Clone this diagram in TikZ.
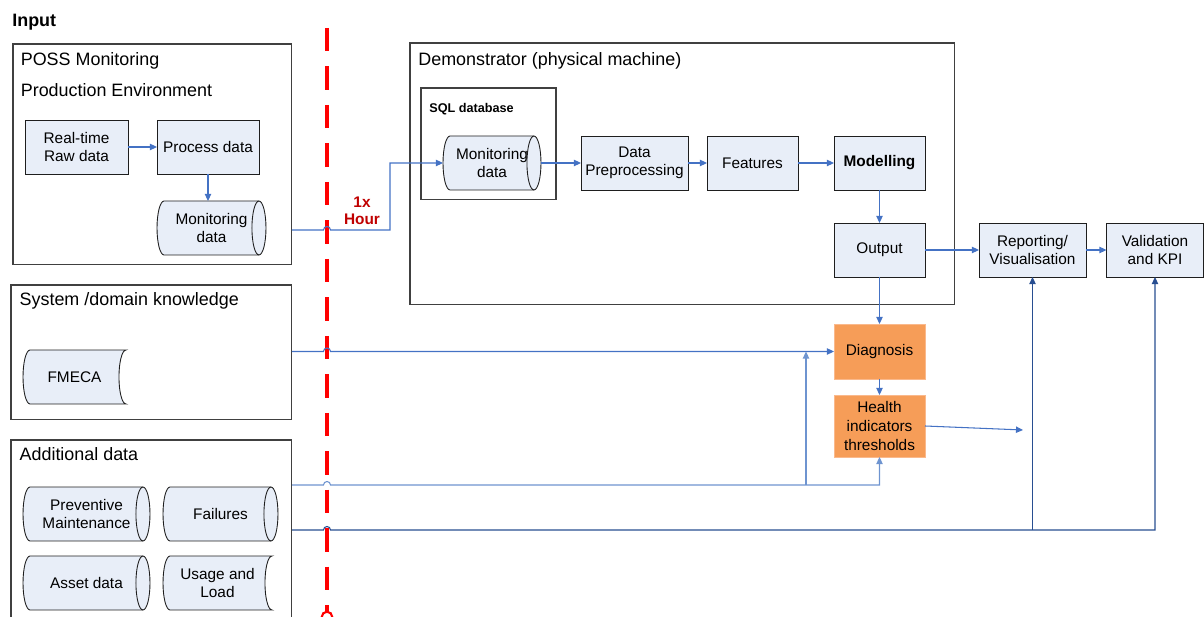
\documentclass[tikz,border=0pt]{standalone}
\usepackage{fontspec}
\setmainfont{Liberation Sans}
\usetikzlibrary{arrows.meta, calc}
\pgfdeclarelayer{background}
\pgfsetlayers{background,main}
\definecolor{boxfill}{RGB}{232,238,248}
\definecolor{boxline}{RGB}{30,30,30}
\definecolor{panelgray}{RGB}{64,64,64}
\definecolor{flowblue}{RGB}{68,114,196}
\definecolor{flowlight}{RGB}{110,148,208}
\definecolor{flowdark}{RGB}{40,78,145}
\definecolor{hotfill}{RGB}{246,157,88}
\definecolor{hotline}{RGB}{250,185,140}
\definecolor{cutred}{RGB}{255,0,0}
\definecolor{labelred}{RGB}{192,0,0}
\newcommand\boxfont{\fontsize{8.75}{10.6}\selectfont}
\newcommand\headfont{\fontsize{10.2}{12.2}\selectfont}
\tikzset{panel/.style={rectangle,draw=panelgray,line width=0.6pt,inner sep=0pt,outer sep=0pt,anchor=north west},
heading/.style={anchor=base west,inner sep=0pt,font=\headfont},
box/.style={rectangle,draw=boxline,fill=boxfill,line width=0.5pt,align=center,minimum height=1.08cm,inner sep=1pt,outer sep=0pt,font=\boxfont},
hotbox/.style={box,draw=hotline,fill=hotfill},
datanode/.style={rectangle,align=center,minimum height=1.08cm,inner sep=1pt,outer sep=0pt,font=\boxfont},
datashape/.style={draw=boxline,fill=boxfill,line width=0.5pt},
flow/.style={draw=flowblue,line width=0.6pt,-{Triangle[length=4pt,width=3.6pt]}},
hop/.style={insert path={arc[start angle=180,end angle=0,radius=2pt]}},
cutline/.style={draw=cutred,line width=1.9pt,dash pattern=on 13.3pt off 8.6pt}}
% data store outlines drawn round a datanode
\newcommand\cylshape[1]{%
  \filldraw[datashape] ($(#1.north west)+(4pt,0)$) -- ($(#1.north east)+(-4pt,0)$)
    arc[start angle=90,end angle=-90,x radius=4pt,y radius=0.54cm]
    -- ($(#1.south west)+(4pt,0)$)
    arc[start angle=270,end angle=90,x radius=4pt,y radius=0.54cm] -- cycle;
  \draw[datashape,fill=none] ($(#1.north east)+(-4pt,0)$)
    arc[start angle=90,end angle=270,x radius=4pt,y radius=0.54cm];}
\newcommand\storeshape[1]{%
  \filldraw[datashape] ($(#1.north west)+(4pt,0)$) -- (#1.north east)
    arc[start angle=90,end angle=270,x radius=4pt,y radius=0.54cm]
    -- ($(#1.south west)+(4pt,0)$)
    arc[start angle=270,end angle=90,x radius=4pt,y radius=0.54cm] -- cycle;}

\begin{document}
\begin{tikzpicture}[x=0.02cm,y=-0.02cm]
\useasboundingbox (0,0) rectangle (1204,617);
\clip (0,0) rectangle (1204,617);
% input side
\node[heading,font=\headfont\bfseries] (input) at (12,26.5) {Input};
\node[panel,minimum width=5.58cm,minimum height=4.42cm] (poss) at (13,44) {};
\node[heading] (possa) at (20.5,65.5) {POSS Monitoring};
\node[heading] (possb) at (20.5,96.5) {Production Environment};
\node[box,minimum width=2.06cm] (raw) at (76.5,147) {Real-time\\Raw data};
\node[box,minimum width=2.04cm] (proc) at (208,147) {Process data};
\node[datanode,minimum width=2.18cm] (mon1) at (211.5,228) {Monitoring\\data};

\node[panel,minimum width=5.62cm,minimum height=2.7cm] (sys) at (11,285) {};
\node[heading] (sysa) at (19.3,306) {System /domain knowledge};
\node[datanode,minimum width=2.06cm] (fmeca) at (74.5,377) {FMECA};

\node[panel,minimum width=5.62cm,minimum height=4cm] (add) at (11,440) {};
\node[heading] (adda) at (19.3,461) {Additional data};
\node[datanode,minimum width=2.54cm] (pm) at (86.5,514) {Preventive\\Maintenance};
\node[datanode,minimum width=2.3cm] (fail) at (220.5,514) {Failures};
\node[datanode,minimum width=2.54cm] (asset) at (86.5,583) {Asset data};
\node[datanode,minimum width=2.18cm] (usage) at (217.5,583) {Usage and\\Load};

% demonstrator
\node[panel,minimum width=10.9cm,minimum height=5.24cm] (demo) at (410,43) {};
\node[heading] (demoa) at (418,66) {Demonstrator (physical machine)};
\node[panel,minimum width=2.7cm,minimum height=2.24cm] (sql) at (421,88) {};
\node[heading,font=\fontsize{7.2}{8.6}\selectfont\bfseries] (sqla) at (429,112.5) {SQL database};
\node[datanode,minimum width=1.96cm] (sqlmon) at (492,163) {Monitoring\\data};
\node[box,minimum width=2.14cm] (prep) at (634.5,163) {Data\\Preprocessing};
\node[box,minimum width=1.82cm] (feat) at (752.5,163) {Features};
\node[box,minimum width=1.82cm,font=\boxfont\bfseries] (model) at (879.5,163) {Modelling};
\node[box,minimum width=1.82cm] (output) at (879.5,250) {Output};
\node[box,minimum width=2.14cm] (report) at (1032.5,250) {Reporting/\\Visualisation};
\node[box,minimum width=1.94cm] (valid) at (1155,250) {Validation\\and KPI};
\node[hotbox,minimum width=1.82cm,minimum height=1.1cm] (diag) at (879.5,351.5) {Diagnosis};
\node[hotbox,minimum width=1.82cm,minimum height=1.24cm] (health) at (879.5,426) {Health\\indicators\\thresholds};

\begin{pgfonlayer}{background}
\cylshape{mon1} \cylshape{sqlmon} \cylshape{pm} \cylshape{fail} \cylshape{asset}
\storeshape{fmeca} \storeshape{usage}
\end{pgfonlayer}

% hourly cut
\coordinate (cut) at (327,28);
\coordinate (cutend) at (327,617);
\draw[cutline] (cut) -- ($(cutend)+(0,3pt)$);
\draw[cutred,line width=1.2pt,fill=white] (cutend) circle (3pt);
\node[font=\fontsize{8.75}{9.8}\selectfont\bfseries,text=labelred,align=center,inner sep=0pt] (rate) at (362,211) {1x\\Hour};

% connectors
\coordinate (relay) at (390,230);
\coordinate (feed) at (292,485);
\coordinate (tap) at (806,485);
\coordinate (hist) at (292,530);
\coordinate (hiend) at (1023,430);
\draw[flow] (raw) -- (proc);
\draw[flow] (proc.south) -- (proc.south |- mon1.north);
\draw[flow] (poss.east |- relay) -- ($(cut |- relay)+(-2pt,0)$) [hop] -- (relay) |- (sqlmon.west);
\draw[flow] (sqlmon) -- (prep);
\draw[flow] (prep) -- (feat);
\draw[flow] (feat) -- (model);
\draw[flow] (model) -- (output);
\draw[flow] (output) -- (report);
\draw[flow] (report) -- (valid);
\draw[flow] (output) -- (diag);
\draw[flow] (diag) -- (health);
\draw[flow] (health.east) -- (hiend);
\draw[flow] (sys.east |- diag) -- ($(cut |- diag)+(-2pt,0)$) [hop] -- (diag.west);
\draw[flow,draw=flowlight] (feed) -- ($(cut |- feed)+(-2pt,0)$) [hop] -- (health.south |- feed) -- (health.south);
\draw[flow,draw=flowlight] (tap) -- (tap |- diag);
\draw[flow,draw=flowdark] (hist) -- ($(cut |- hist)+(-2pt,0)$) [hop] -- (valid.south |- hist) -- (valid.south);
\draw[flow,draw=flowdark] (report.south |- hist) -- (report.south);
\end{tikzpicture}
\end{document}
